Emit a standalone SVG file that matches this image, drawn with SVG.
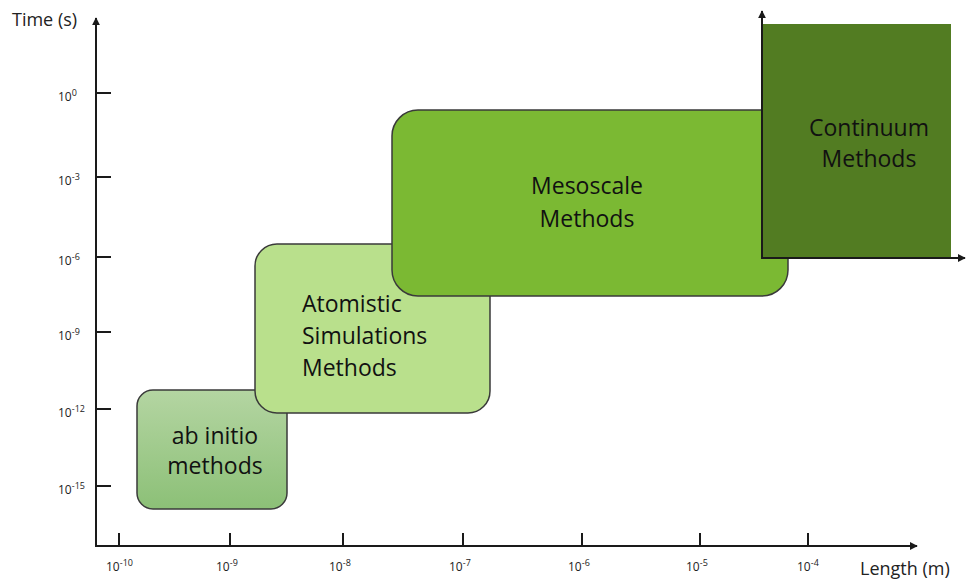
<svg xmlns="http://www.w3.org/2000/svg" width="966" height="581" viewBox="0 0 966 581">
<style>
.ax{stroke:#1a1a1a;stroke-width:2;fill:none}
.tk{stroke:#1a1a1a;stroke-width:2}
.box{stroke:#3a3a3a;stroke-width:1.5}
.bt{font-family:"Open Sans","Noto Sans",sans-serif;font-size:23px;fill:#111}
.tl{font-family:"Open Sans","Noto Sans",sans-serif;font-size:12px;fill:#222}
.sp{font-size:9px}
.al{font-family:"Open Sans","Noto Sans",sans-serif;font-size:18px;fill:#222}
</style>
<defs>
<marker id="arr" viewBox="0 0 10 10" refX="9" refY="5" markerWidth="8" markerHeight="8" orient="auto" markerUnits="userSpaceOnUse"><path d="M0,0 L10,5 L0,10 z" fill="#1a1a1a"/></marker>
<linearGradient id="gab" x1="0" y1="0" x2="0" y2="1"><stop offset="0" stop-color="#B4D5A2"/><stop offset="1" stop-color="#8CC077"/></linearGradient>
</defs>
<g id="nodes">
<g id="abinitio">
<rect class="box" x="137" y="390" width="150" height="119" rx="16" fill="url(#gab)"/>
<text class="bt" x="215" y="444" text-anchor="middle">ab initio</text>
<text class="bt" x="215" y="474" text-anchor="middle">methods</text>
</g>
<g id="atomistic">
<rect class="box" x="255" y="244" width="235" height="169" rx="22" fill="#B9E08C"/>
<text class="bt" x="302" y="312">Atomistic</text>
<text class="bt" x="302" y="344">Simulations</text>
<text class="bt" x="302" y="376">Methods</text>
</g>
<g id="mesoscale">
<rect class="box" x="392" y="110" width="396" height="186" rx="26" fill="#7BB933"/>
<text class="bt" x="587" y="194" text-anchor="middle">Mesoscale</text>
<text class="bt" x="587" y="227" text-anchor="middle">Methods</text>
</g>
<g id="continuum">
<rect x="762" y="24" width="189" height="234" fill="#527C22"/>
<text class="bt" x="869" y="136" text-anchor="middle">Continuum</text>
<text class="bt" x="869" y="167" text-anchor="middle">Methods</text>
</g>
</g>
<g id="connectors">
<line class="ax" x1="96" y1="546" x2="96" y2="18" marker-end="url(#arr)"/>
<line class="ax" x1="95" y1="546" x2="917" y2="546" marker-end="url(#arr)"/>
<line class="ax" x1="762" y1="258" x2="762" y2="11" marker-end="url(#arr)"/>
<line class="ax" x1="761" y1="258" x2="965" y2="258" marker-end="url(#arr)"/>
<g class="tk">
<line x1="96" y1="93" x2="111" y2="93"/>
<line x1="96" y1="177" x2="111" y2="177"/>
<line x1="96" y1="257" x2="111" y2="257"/>
<line x1="96" y1="332" x2="111" y2="332"/>
<line x1="96" y1="409" x2="111" y2="409"/>
<line x1="96" y1="486" x2="111" y2="486"/>
<line x1="119" y1="533" x2="119" y2="546"/>
<line x1="230" y1="533" x2="230" y2="546"/>
<line x1="343" y1="533" x2="343" y2="546"/>
<line x1="463" y1="533" x2="463" y2="546"/>
<line x1="582" y1="533" x2="582" y2="546"/>
<line x1="700" y1="533" x2="700" y2="546"/>
<line x1="808" y1="533" x2="808" y2="546"/>
</g>
</g>
<g id="labels">
<text class="al" x="12" y="26">Time (s)</text>
<text class="al" x="860" y="575">Length (m)</text>
<text class="tl" x="58" y="101">10<tspan class="sp" dy="-5">0</tspan></text>
<text class="tl" x="58" y="185">10<tspan class="sp" dy="-5">-3</tspan></text>
<text class="tl" x="58" y="265">10<tspan class="sp" dy="-5">-6</tspan></text>
<text class="tl" x="58" y="340">10<tspan class="sp" dy="-5">-9</tspan></text>
<text class="tl" x="58" y="417">10<tspan class="sp" dy="-5">-12</tspan></text>
<text class="tl" x="58" y="494">10<tspan class="sp" dy="-5">-15</tspan></text>
<text class="tl" x="106" y="571">10<tspan class="sp" dy="-5">-10</tspan></text>
<text class="tl" x="216" y="571">10<tspan class="sp" dy="-5">-9</tspan></text>
<text class="tl" x="329" y="571">10<tspan class="sp" dy="-5">-8</tspan></text>
<text class="tl" x="449" y="571">10<tspan class="sp" dy="-5">-7</tspan></text>
<text class="tl" x="568" y="571">10<tspan class="sp" dy="-5">-6</tspan></text>
<text class="tl" x="686" y="571">10<tspan class="sp" dy="-5">-5</tspan></text>
<text class="tl" x="797" y="571">10<tspan class="sp" dy="-5">-4</tspan></text>
</g>
</svg>
